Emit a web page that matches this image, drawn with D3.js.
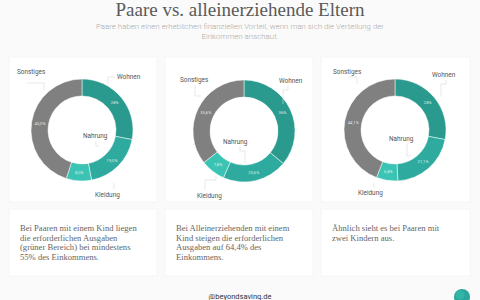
<!DOCTYPE html>
<html><head><meta charset="utf-8">
<script src="https://cdn.jsdelivr.net/npm/d3@7"></script>
<style>
html,body{margin:0;padding:0;background:#fafafa;}
svg{display:block;}
</style></head>
<body>
<svg id="c" width="480" height="300"></svg>
<script>
// ---- data ----
const categories = ["Wohnen", "Nahrung", "Kleidung", "Sonstiges"];
const chartNames = ["Paare, ein Kind", "Alleinerziehend, ein Kind", "Paare, zwei Kinder"];
const valuesPaare1 = [28, 19, 8, 45];
const valuesAllein1 = [36, 20.6, 7.8, 35.6];
const valuesPaare2 = [28, 21.1, 6.8, 44.1];
const valueLabelsPaare1 = ["28%", "19,0%", "8,0%", "45,0%"];
const valueLabelsAllein1 = ["36%", "20,6%", "7,8%", "35,6%"];
const valueLabelsPaare2 = ["28%", "21,1%", "6,8%", "44,1%"];
const captions = [
  ["Bei Paaren mit einem Kind liegen", "die erforderlichen Ausgaben", "(grüner Bereich) bei mindestens", "55% des Einkommens."],
  ["Bei Alleinerziehenden mit einem", "Kind steigen die erforderlichen", "Ausgaben auf 64,4% des", "Einkommens."],
  ["Ähnlich sieht es bei Paaren mit", "zwei Kindern aus."]
];
const titleText = "Paare vs. alleinerziehende Eltern";
const subtitleLines = ["Paare haben einen erheblichen finanziellen Vorteil, wenn man sich die Verteilung der", "Einkommen anschaut."];
const footerText = "@beyondsaving.de";

// ---- layout / style ----
const colors = ["#2a9a8e", "#2eab9e", "#3bc3b3", "#808080"];
const cardsTop = [{x:9,w:148},{x:165,w:148},{x:321,w:149}];
const centers = [{x:82,y:130},{x:244,y:131},{x:395,y:130}];
const outerR = 51, innerR = 34;
const labelPos = [
  [[117,79,"start"],[83,138,"start"],[95,197,"start"],[17,74,"start"]],
  [[279,83,"start"],[223,144,"start"],[197,198,"start"],[180,82,"start"]],
  [[432,77,"start"],[389,141,"start"],[358,195,"start"],[333,74,"start"]]
];
const leaders = [
  [[[115,77],[108,77],[108,85]],[[96,141],[96,146],[99,146]],[[114,189],[114,183]],[[27,83],[44,83],[44,90]]],
  [[[288,86],[288,90],[283,90],[283,104]],[[240,147],[240,151],[245,151],[245,163]],[[205,190],[205,180],[216,180],[216,176]],[[195,85],[195,96],[201,96]]],
  [[[446,80],[446,84],[441,84],[441,96]],[[407,144],[407,156],[411,156]],[[374,188],[374,183]],[[348,77],[357,77],[357,84]]]
];

const svg = d3.select("#c");
const sans = "Roboto, 'Noto Sans', sans-serif";
const serif = "'Liberation Serif', 'DejaVu Serif', serif";

svg.append("text").attr("x",240).attr("y",16).attr("text-anchor","middle")
  .attr("font-family",serif).attr("font-size",19).attr("fill","#5a5a5a").text(titleText);
subtitleLines.forEach((t,i)=>{
  svg.append("text").attr("x",240).attr("y",29+i*9.5).attr("text-anchor","middle")
    .attr("font-family",sans).attr("font-weight",300).attr("font-size",7.9).attr("fill","#aaa").text(t);
});

cardsTop.forEach(c=>{
  svg.append("rect").attr("x",c.x).attr("y",57).attr("width",c.w).attr("height",145).attr("fill","#fff")
    .attr("stroke","#f0f0f0").attr("stroke-width",0.6);
  svg.append("rect").attr("x",c.x).attr("y",209).attr("width",c.w).attr("height",67).attr("fill","#fff")
    .attr("stroke","#f0f0f0").attr("stroke-width",0.6);
});

const allValues = [valuesPaare1, valuesAllein1, valuesPaare2];
const allLabels = [valueLabelsPaare1, valueLabelsAllein1, valueLabelsPaare2];
const pie = d3.pie().sort(null).value(d=>d.v);
const arc = d3.arc().innerRadius(innerR).outerRadius(outerR);
const color = d3.scaleOrdinal().domain(categories).range(colors);

allValues.forEach((vals,ci)=>{
  const data = categories.map((c,i)=>({c, v:vals[i], l:allLabels[ci][i]}));
  const g = svg.append("g").attr("transform",`translate(${centers[ci].x},${centers[ci].y})`);
  const arcs = pie(data);
  g.selectAll("path").data(arcs).enter().append("path")
    .attr("d",arc).attr("fill",d=>color(d.data.c)).attr("stroke","#fff").attr("stroke-width",0.5);
  g.selectAll("text.v").data(arcs).enter().append("text").attr("class","v")
    .attr("transform",d=>`translate(${arc.centroid(d)})`).attr("text-anchor","middle").attr("dy","0.35em")
    .attr("font-family",sans).attr("font-size",4.2).attr("fill","#fff").attr("fill-opacity",0.85).text(d=>d.data.l);
  leaders[ci].forEach(pts=>{
    svg.append("polyline").attr("points",pts.map(p=>p.join(",")).join(" "))
      .attr("fill","none").attr("stroke","#d8d8d8").attr("stroke-width",0.6);
  });
  categories.forEach((c,i)=>{
    const p = labelPos[ci][i];
    svg.append("text").attr("x",p[0]).attr("y",p[1]).attr("text-anchor",p[2])
      .attr("font-family",sans).attr("font-size",6.4).attr("fill","#555").text(c);
  });
});

captions.forEach((lines,ci)=>{
  lines.forEach((t,i)=>{
    svg.append("text").attr("x",cardsTop[ci].x+11).attr("y",231+i*9.6)
      .attr("font-family",serif).attr("font-size",8.6).attr("fill","#666").text(t);
  });
});

svg.append("text").attr("x",240).attr("y",299).attr("text-anchor","middle")
  .attr("font-family",sans).attr("font-size",7.5).attr("fill","#333").text(footerText);
svg.append("circle").attr("cx",462).attr("cy",297).attr("r",8).attr("fill","#2aa69a");
svg.append("circle").attr("cx",460).attr("cy",295).attr("r",4.5).attr("fill","#36bcae").attr("opacity",0.7);
</script>
</body></html>
